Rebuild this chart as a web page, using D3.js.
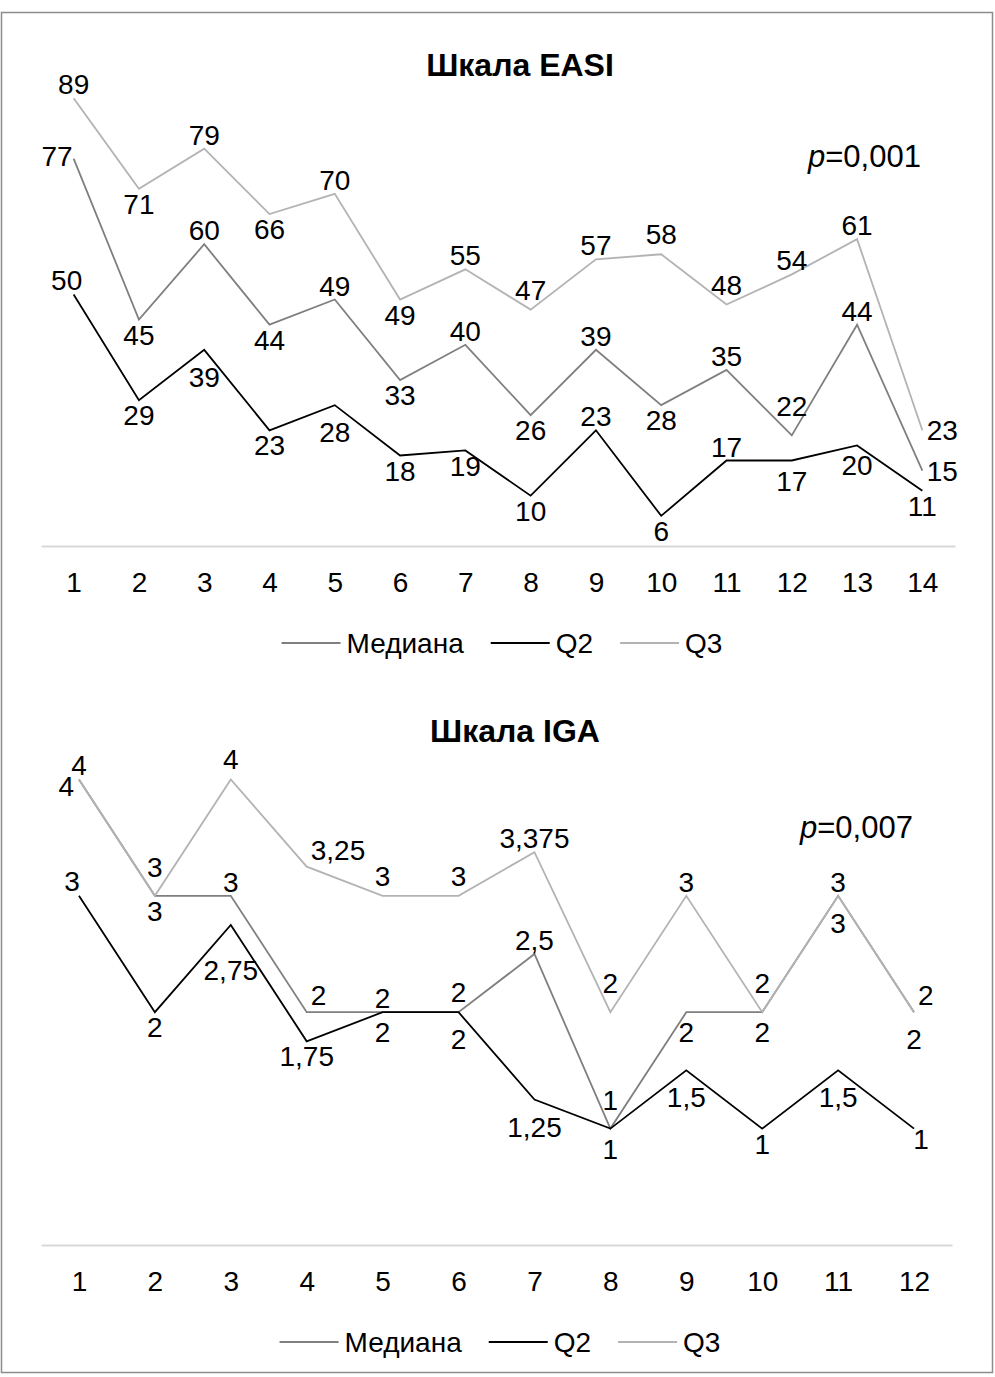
<!DOCTYPE html>
<html>
<head>
<meta charset="utf-8">
<script src="https://cdn.jsdelivr.net/npm/d3@7"></script>
<style>
  body { margin: 0; background: #fff; }
  text { font-family: "Liberation Sans", Arial, sans-serif; fill: #000; }
</style>
</head>
<body>
<div id="chart"></div>
<script>
// series names and colours
var seriesNames = ["Медиана", "Q2", "Q3"];
var seriesColors = ["#7f7f7f", "#000000", "#b3b3b3"];

// EASI data
var easiCats = ["1","2","3","4","5","6","7","8","9","10","11","12","13","14"];
var easiMedian = [77, 45, 60, 44, 49, 33, 40, 26, 39, 28, 35, 22, 44, 15];
var easiQ2     = [50, 29, 39, 23, 28, 18, 19, 10, 23, 6, 17, 17, 20, 11];
var easiQ3     = [89, 71, 79, 66, 70, 49, 55, 47, 57, 58, 48, 54, 61, 23];

// IGA data
var igaCats = ["1","2","3","4","5","6","7","8","9","10","11","12"];
var igaMedian = [4, 3, 3, 2, 2, 2, 2.5, 1, 2, 2, 3, 2];
var igaQ2     = [3, 2, 2.75, 1.75, 2, 2, 1.25, 1, 1.5, 1, 1.5, 1];
var igaQ3     = [4, 3, 4, 3.25, 3, 3, 3.375, 2, 3, 2, 3, 2];

// where each data label sits relative to its point
var easiLabelPos = [
  ["L","B","T","B","T","B","T","B","T","B","T","T3","T","R"],
  ["TL","B","B3","B","B3","B","B","B","T","B","T","B2","B2","B"],
  ["T","B","T","B","T","B","T","T2","T","T2","T2","T","T","R"]
];
var igaLabelPos = [
  ["L2","B","T","TR","T","T2","T","T3","B2","B2","B3","B3"],
  ["TL","B","B4","B","B2","B3","B3","B2","B3","B","B3","BR"],
  ["T","T3","T2","TR","T2","T2","T","T3","T","T3","T","TR"]
];

// label offsets [dx, dy, anchor]
var offsets = {
  T: [0, -14, "middle"], T2: [0, -20, "middle"], T3: [0, -29, "middle"],
  B: [0, 15, "middle"], B2: [0, 20, "middle"], B3: [0, 27, "middle"], B4: [0, 45, "middle"],
  L: [-1, -3, "end"], L2: [-5, 7, "end"], R: [20, 0, "middle"], TL: [-7, -15, "middle"],
  TR: [4, -17, "start"], BR: [7, 10, "middle"]
};

var W = 995, H = 1377;
var fs = 28;

var svg = d3.select("#chart")
  .append("svg")
    .attr("width", W)
    .attr("height", H);

svg.append("rect")
  .attr("x", 1.5).attr("y", 12.5)
  .attr("width", 991).attr("height", 1360)
  .attr("fill", "#fff")
  .attr("stroke", "#8c8c8c")
  .attr("stroke-width", 1.5);

function fmt(v) { return String(v).replace(".", ","); }

function drawChart(opt) {
  var g = svg.append("g");

  var x = d3.scalePoint()
    .domain(opt.cats)
    .range([opt.left, opt.right])
    .padding(0.5);

  var y = d3.scaleLinear()
    .domain(opt.yDomain)
    .range([opt.bottom, opt.top]);

  // title
  g.append("text")
    .attr("x", opt.titleX)
    .attr("y", opt.titleY)
    .attr("text-anchor", "middle")
    .style("font-size", "32px")
    .style("font-weight", "bold")
    .text(opt.title);

  // p value
  var p = g.append("text")
    .attr("x", opt.pX)
    .attr("y", opt.pY)
    .style("font-size", "31px");
  p.append("tspan").style("font-style", "italic").text("p");
  p.append("tspan").text(opt.pText);

  // X axis
  var ax = g.append("g")
    .attr("transform", "translate(0," + opt.bottom + ")")
    .call(d3.axisBottom(x).tickSize(0).tickSizeOuter(0).tickPadding(26));
  ax.select(".domain")
    .attr("stroke", "#d9d9d9")
    .attr("stroke-width", 2);
  ax.selectAll("text")
    .style("font-size", fs + "px")
    .style("font-family", "'Liberation Sans', Arial, sans-serif")
    .attr("fill", "#000");

  var line = d3.line()
    .x(function(d, i) { return x(opt.cats[i]); })
    .y(function(d) { return y(d); });

  // lines
  opt.series.forEach(function(s, k) {
    g.append("path")
      .datum(s)
      .attr("d", line)
      .attr("fill", "none")
      .attr("stroke", seriesColors[k])
      .attr("stroke-width", 1.8)
      .attr("stroke-linejoin", "miter");
  });

  // data labels
  opt.series.forEach(function(s, k) {
    g.selectAll(".lbl" + k)
      .data(s)
      .enter()
      .append("text")
        .attr("x", function(d, i) { return x(opt.cats[i]) + offsets[opt.labelPos[k][i]][0]; })
        .attr("y", function(d, i) { return y(d) + offsets[opt.labelPos[k][i]][1]; })
        .attr("dy", "0.36em")
        .attr("text-anchor", function(d, i) { return offsets[opt.labelPos[k][i]][2]; })
        .style("font-size", fs + "px")
        .text(fmt);
  });

  // legend
  var leg = g.append("g");
  var cx = 0;
  seriesNames.forEach(function(n, k) {
    var it = leg.append("g").attr("transform", "translate(" + cx + ",0)");
    it.append("line")
      .attr("x1", 0).attr("x2", 59)
      .attr("y1", 0).attr("y2", 0)
      .attr("stroke", seriesColors[k])
      .attr("stroke-width", 1.8);
    var t = it.append("text")
      .attr("x", 65)
      .attr("dy", "0.36em")
      .style("font-size", fs + "px")
      .text(n);
    cx += 65 + t.node().getComputedTextLength() + 27;
  });
  cx -= 27;
  leg.attr("transform", "translate(" + (opt.legendCX - cx / 2) + "," + opt.legendY + ")");
}

drawChart({
  title: "Шкала EASI", titleX: 520, titleY: 76,
  pText: "=0,001", pX: 808, pY: 167,
  cats: easiCats,
  series: [easiMedian, easiQ2, easiQ3],
  labelPos: easiLabelPos,
  left: 41, right: 955, top: 43, bottom: 546,
  yDomain: [0, 100],
  legendCX: 502, legendY: 643
});

drawChart({
  title: "Шкала IGA", titleX: 515, titleY: 742,
  pText: "=0,007", pX: 800, pY: 838,
  cats: igaCats,
  series: [igaMedian, igaQ2, igaQ3],
  labelPos: igaLabelPos,
  left: 41, right: 952, top: 663, bottom: 1245,
  yDomain: [0, 5],
  legendCX: 500, legendY: 1342
});
</script>
</body>
</html>
